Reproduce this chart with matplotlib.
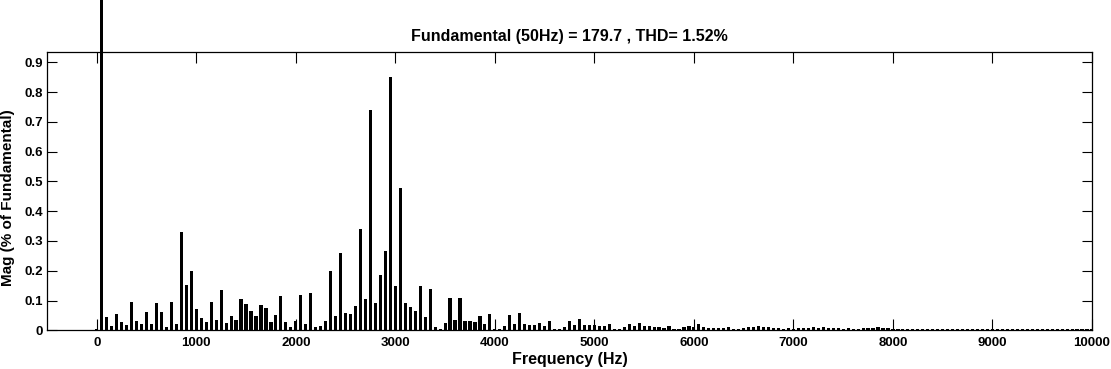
import numpy as np
from matplotlib import pyplot as plt

plt.rcParams['font.family'] = ['Liberation Sans', 'DejaVu Sans']
plt.rcParams['font.weight'] = 'bold'

# harmonic spectrum, 50 Hz spacing, magnitude in % of fundamental
freq = np.arange(0, 10001, 50)

mag_0_2000 = [0.003, 100.0, 0.044, 0.013, 0.054, 0.027, 0.017, 0.095, 0.030, 0.020,
              0.060, 0.020, 0.091, 0.060, 0.010, 0.094, 0.020, 0.329, 0.151, 0.198,
              0.071, 0.040, 0.027, 0.094, 0.034, 0.134, 0.024, 0.047, 0.034, 0.104,
              0.087, 0.064, 0.047, 0.084, 0.074, 0.027, 0.050, 0.114, 0.027, 0.010]
mag_2000_4000 = [0.032, 0.118, 0.020, 0.124, 0.010, 0.014, 0.030, 0.198, 0.047, 0.259,
                 0.057, 0.054, 0.081, 0.339, 0.104, 0.739, 0.091, 0.185, 0.265, 0.850,
                 0.148, 0.477, 0.091, 0.077, 0.064, 0.148, 0.044, 0.138, 0.010, 0.003,
                 0.024, 0.108, 0.034, 0.108, 0.030, 0.030, 0.027, 0.047, 0.020, 0.054]
mag_4000_6000 = [0.003, 0.005, 0.013, 0.050, 0.020, 0.057, 0.020, 0.017, 0.017, 0.024,
                 0.013, 0.030, 0.003, 0.003, 0.010, 0.030, 0.017, 0.037, 0.017, 0.017,
                 0.017, 0.013, 0.013, 0.020, 0.003, 0.003, 0.010, 0.020, 0.013, 0.024,
                 0.013, 0.013, 0.010, 0.010, 0.007, 0.013, 0.003, 0.003, 0.010, 0.013]
mag_6000_8000 = [0.012, 0.020, 0.010, 0.007, 0.007, 0.007, 0.007, 0.010, 0.003, 0.003,
                 0.007, 0.010, 0.010, 0.013, 0.010, 0.010, 0.007, 0.007, 0.003, 0.007,
                 0.003, 0.007, 0.007, 0.007, 0.010, 0.007, 0.010, 0.007, 0.007, 0.007,
                 0.003, 0.007, 0.003, 0.003, 0.007, 0.007, 0.007, 0.010, 0.007, 0.007]
mag_8000_10000 = [0.005, 0.006, 0.003, 0.006, 0.006, 0.003, 0.006, 0.006, 0.006, 0.006,
                  0.006, 0.006, 0.003, 0.006, 0.003, 0.006, 0.006, 0.006, 0.006, 0.006,
                  0.006, 0.006, 0.006, 0.006, 0.006, 0.006, 0.006, 0.003, 0.006, 0.006,
                  0.006, 0.006, 0.003, 0.006, 0.003, 0.006, 0.006, 0.006, 0.006, 0.006,
                  0.006]
mag = np.array(mag_0_2000 + mag_2000_4000 + mag_4000_6000 + mag_6000_8000 + mag_8000_10000)

fund_freq = 50
fund_mag = 179.7
thd = 1.52

xticks = np.arange(0, 10001, 1000)
yticks = np.arange(0, 0.91, 0.1)

fig = plt.figure(figsize=(11.11, 3.69), dpi=100)
ax = fig.add_axes([0.0423, 0.1049, 0.9406, 0.7534])

bars = ax.bar(freq, mag, width=32, color='black', edgecolor='none')
ymax = 0.9335
# the fundamental runs off the top of the axes like in the original
for b, m in zip(bars, mag):
    if m > ymax:
        b.set_clip_on(False)

ax.set_xlim(-500, 10000)
ax.set_ylim(0, ymax)
ax.set_xticks(xticks)
ax.set_yticks(yticks)
ax.set_yticklabels(['0'] + ['%.1f' % v for v in yticks[1:]])
ax.tick_params(direction='in', top=True, right=True, labelsize=9.5, width=0.8)
ax.tick_params(axis='x', length=8, pad=5)
ax.tick_params(axis='y', length=7, pad=3)
for s in ax.spines.values():
    s.set_linewidth(0.9)

ax.set_xlabel("Frequency (Hz)", fontsize=11.5, fontweight='bold', labelpad=2)
ax.set_ylabel("Mag (% of Fundamental)", fontsize=11, fontweight='bold')
ax.yaxis.set_label_coords(-0.031, 0.478)
ax.set_title("Fundamental (%dHz) = %.1f , THD= %.2f%%" % (fund_freq, fund_mag, thd),
             fontsize=11.5, fontweight='bold', pad=8)

fig.savefig("out.png", dpi=100)
